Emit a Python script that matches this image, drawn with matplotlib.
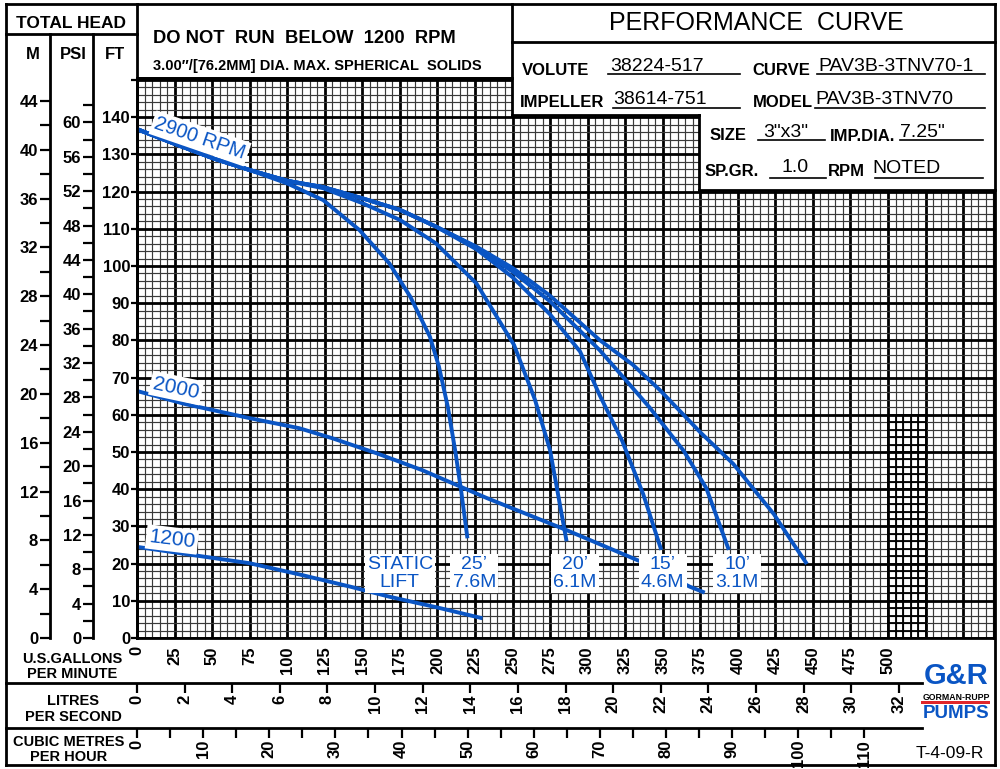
import numpy as np
import matplotlib
matplotlib.use("Agg")
import matplotlib.pyplot as plt
from matplotlib.lines import Line2D
from matplotlib.patches import Rectangle

# ---------------- data ----------------
gpm_labels = list(range(0, 501, 25))
lps_labels = list(range(0, 33, 2))
cmh_labels = list(range(0, 111, 10))
cmh_minor = list(range(5, 110, 10))
ft_labels = list(range(0, 141, 10))
m_labels = list(range(0, 45, 4))
m_minor = list(range(2, 43, 4))
psi_labels = list(range(0, 61, 4))
psi_minor = list(range(2, 63, 4))

lift25_gpm = [0, 24, 51, 75, 100, 124, 148, 168, 182, 195, 201, 207, 212, 216, 220]
lift25_ft = [136.8, 133, 128.9, 125.8, 122.2, 117.7, 109.7, 100.7, 91.7, 81, 73, 62, 50, 39, 26.8]
lift20_gpm = [0, 24, 51, 75, 100, 124, 150, 175, 199, 226, 251, 265, 275, 281, 286]
lift20_ft = [136.8, 133, 128.9, 125.8, 122.9, 120.9, 116.9, 112.4, 106.1, 95.3, 78.8, 64, 50.5, 37.1, 26]
lift15_gpm = [0, 24, 51, 75, 100, 124, 150, 175, 199, 226, 250, 275, 295, 308, 323, 337, 349]
lift15_ft = [136.8, 133, 128.9, 125.8, 122.9, 121.2, 118.2, 115.1, 110.6, 104.5, 97, 87, 77, 65.3, 53, 38.7, 23.7]
lift10_gpm = [0, 24, 51, 75, 100, 124, 150, 175, 199, 226, 250, 275, 308, 341, 364, 379, 394]
lift10_ft = [136.8, 133, 128.9, 125.8, 122.9, 121.2, 118.2, 115.1, 110.6, 105, 98.5, 90.5, 77.4, 62.1, 50.3, 40.3, 23.7]
full_gpm = [0, 24, 51, 75, 100, 124, 150, 175, 199, 226, 250, 275, 308, 330, 348, 375, 397, 410, 424, 437, 446]
full_ft = [136.8, 133, 128.9, 125.8, 122.9, 121.2, 118.2, 115.1, 110.6, 105.2, 99.5, 92, 80.1, 73.5, 66.7, 55.3, 46.8, 40.3, 33.3, 25.3, 19.9]
rpm2000_gpm = [0, 32, 75, 108, 130, 160, 190, 233, 286, 338, 368, 378]
rpm2000_ft = [66.4, 62.9, 59.1, 56.4, 53.7, 49.6, 45.1, 37.6, 29, 20.1, 13.8, 12.2]
rpm1200_gpm = [0, 32, 75, 108, 142, 168, 200, 230]
rpm1200_ft = [24.5, 22.6, 20.1, 17.1, 13.8, 11.1, 8.2, 5.3]

lift_labels = ["STATIC\nLIFT", "25\u2019\n7.6M", "20\u2019\n6.1M", "15\u2019\n4.6M", "10\u2019\n3.1M"]
lift_label_gpm = [175, 224.5, 291.5, 350, 399.5]

BLUE = "#0a55c4"
FONT = "Liberation Sans"
plt.rcParams["font.family"] = [FONT, "DejaVu Sans"]

W, H = 1000, 769
fig = plt.figure(figsize=(10, 7.69), dpi=100)
fig.patch.set_facecolor("white")


def fx(x):
    return x / W


def fy(y):
    return 1 - y / H


def seg(x0, y0, x1, y1, lw=2.0):
    fig.add_artist(Line2D([fx(x0), fx(x1)], [fy(y0), fy(y1)], color="black", lw=lw,
                          transform=fig.transFigure, solid_capstyle="projecting", zorder=3))


def ftext(x, y, s, size, weight="bold", ha="center", va="baseline", color="black", **kw):
    fig.text(fx(x), fy(y), s, fontsize=size, fontweight=weight, ha=ha, va=va,
             color=color, zorder=4, **kw)


# ---------------- main grid axes ----------------
PX_GPM = 1.502
PX_FT = 3.72
ax = fig.add_axes([fx(137), fy(638), (994 - 137) / W, (638 - 78) / H])
ax.set_xlim(0, (994 - 137) / PX_GPM)
ax.set_ylim(0, (638 - 78) / PX_FT)
ax.set_xticks(np.arange(0, 571, 25))
ax.set_xticks(np.arange(0, 571, 5), minor=True)
ax.set_yticks(np.arange(0, 151, 10))
ax.set_yticks(np.arange(0, 151, 2), minor=True)
ax.grid(which="minor", color="#3a3a3a", lw=0.85)
ax.grid(which="major", color="black", lw=2.0)
ax.set_axisbelow(True)
for sp in ax.spines.values():
    sp.set_linewidth(2.0)

xt_lab = [str(v) if v in gpm_labels else "" for v in np.arange(0, 571, 25)]
ax.set_xticklabels(xt_lab, rotation=90, fontsize=12, fontweight="bold")
yt_lab = [str(v) if v in ft_labels else "" for v in np.arange(0, 151, 10)]
ax.set_yticklabels(yt_lab, fontsize=12, fontweight="bold")
ax.tick_params(axis="x", which="both", length=0, pad=6)
ax.tick_params(axis="y", which="major", length=4, width=1.6, pad=1)
ax.tick_params(axis="y", which="minor", length=0)

# dark dense patch in grid (as in reference print)
for gx in range(500, 526, 5):
    ax.plot([gx, gx], [0, 60], color="black", lw=1.3, zorder=1)
for gy in range(0, 61, 2):
    ax.plot([500, 525], [gy, gy], color="black", lw=1.3, zorder=1)

# ---------------- curves ----------------
curve_kw = dict(color=BLUE, lw=2.8, solid_capstyle="butt", solid_joinstyle="round", zorder=3)
for xs, ys in [(lift25_gpm, lift25_ft), (lift20_gpm, lift20_ft), (lift15_gpm, lift15_ft),
               (lift10_gpm, lift10_ft), (full_gpm, full_ft),
               (rpm2000_gpm, rpm2000_ft), (rpm1200_gpm, rpm1200_ft)]:
    ax.plot(xs, ys, **curve_kw)

box = dict(facecolor="white", edgecolor="none", pad=2.0)
ax.text(42, 134.3, "2900 RPM", color=BLUE, fontsize=14.5, rotation=-19, ha="center",
        va="center", bbox=box, zorder=5, rotation_mode="anchor")
ax.text(26, 67.2, "2000", color=BLUE, fontsize=15, rotation=-12, ha="center",
        va="center", bbox=box, zorder=5, rotation_mode="anchor")
ax.text(23.3, 26.5, "1200", color=BLUE, fontsize=15, rotation=-7, ha="center",
        va="center", bbox=box, zorder=5, rotation_mode="anchor")
for s, g in zip(lift_labels, lift_label_gpm):
    ax.text(g, 17.4, s, color=BLUE, fontsize=14, ha="center", va="center",
            linespacing=1.08, bbox=dict(facecolor="white", edgecolor="none", pad=1.5), zorder=5)

# ---------------- secondary head scales ----------------
secM = ax.secondary_yaxis(-(137 - 50) / (994 - 137),
                          functions=(lambda f: f / 3.28084, lambda m: m * 3.28084))
secM.set_yticks(m_labels)
secM.set_yticklabels([str(v) for v in m_labels], fontsize=12, fontweight="bold")
secM.set_yticks(m_minor, minor=True)
secM.tick_params(which="both", length=7.5, width=1.6, direction="out", pad=1)
secM.spines["left"].set_visible(False)

secP = ax.secondary_yaxis(-(137 - 93) / (994 - 137),
                          functions=(lambda f: f / 2.31, lambda p: p * 2.31))
secP.set_yticks(psi_labels)
secP.set_yticklabels([str(v) for v in psi_labels], fontsize=12, fontweight="bold")
secP.set_yticks(psi_minor, minor=True)
secP.tick_params(which="both", length=7.5, width=1.6, direction="out", pad=1)
secP.spines["left"].set_visible(False)

# ---------------- secondary flow scales ----------------
secL = ax.secondary_xaxis(-(683 - 638) / (638 - 78),
                          functions=(lambda g: g / 15.8503, lambda l: l * 15.8503))
secL.set_xticks(lps_labels)
secL.set_xticklabels([str(v) for v in lps_labels], rotation=90, fontsize=12, fontweight="bold")
secL.tick_params(which="both", length=7.5, width=1.6, direction="out", pad=1)
secL.spines["bottom"].set_visible(False)

secC = ax.secondary_xaxis(-(728 - 638) / (638 - 78),
                          functions=(lambda g: g / 4.40287, lambda c: c * 4.40287))
secC.set_xticks(cmh_labels)
secC.set_xticklabels([str(v) for v in cmh_labels], rotation=90, fontsize=12, fontweight="bold")
secC.set_xticks(cmh_minor, minor=True)
secC.tick_params(which="both", length=7.5, width=1.6, direction="out", pad=1)
secC.spines["bottom"].set_visible(False)

# ---------------- white title-block areas over grid ----------------
fig.add_artist(Rectangle((fx(512), fy(115)), fx(995) - fx(512), fy(0) - fy(115),
                         transform=fig.transFigure, facecolor="white", edgecolor="none", zorder=1))
fig.add_artist(Rectangle((fx(699), fy(190)), fx(995) - fx(699), fy(0) - fy(190),
                         transform=fig.transFigure, facecolor="white", edgecolor="none", zorder=1))
fig.add_artist(Rectangle((fx(995), 0), 1 - fx(995), 1, transform=fig.transFigure,
                         facecolor="white", edgecolor="none", zorder=1))

# ---------------- frame lines ----------------
LW = 2.0
seg(6, 4, 995, 4, LW)
seg(6, 765, 995, 765, LW)
seg(6, 4, 6, 765, LW)
seg(995, 4, 995, 765, LW)
seg(6, 34, 137, 34, LW)
seg(137, 4, 137, 638, LW)
seg(50, 34, 50, 638, LW)
seg(93, 34, 93, 638, LW)
seg(137, 78, 512, 78, LW)
seg(512, 4, 512, 115, LW)
seg(512, 42, 995, 42, LW)
seg(512, 115, 699, 115, LW)
seg(699, 115, 699, 190, LW)
seg(699, 190, 995, 190, LW)
seg(6, 683, 922, 683, LW)
seg(6, 728, 922, 728, LW)

# ---------------- texts ----------------
ftext(71, 28, "TOTAL HEAD", 12.5)
ftext(33, 59, "M", 12)
ftext(73, 59, "PSI", 12)
ftext(115, 59, "FT", 12)
ftext(153, 43, "DO NOT  RUN  BELOW  1200  RPM", 13.2, ha="left")
ftext(153, 70, "3.00\u2033/[76.2MM] DIA. MAX. SPHERICAL  SOLIDS", 10.5, ha="left")
ftext(756, 30, "PERFORMANCE  CURVE", 18, weight="normal")

ftext(522, 75, "VOLUTE", 12, ha="left")
ftext(610, 71, "38224-517", 14, weight="normal", ha="left")
seg(608, 74, 740, 74, 1.2)
ftext(752, 75, "CURVE", 12, ha="left")
ftext(818, 71, "PAV3B-3TNV70-1", 14, weight="normal", ha="left")
seg(817, 74, 985, 74, 1.2)

ftext(520, 107, "IMPELLER", 12, ha="left")
ftext(613, 104, "38614-751", 14, weight="normal", ha="left")
seg(613, 108, 740, 108, 1.2)
ftext(753, 107, "MODEL", 12, ha="left")
ftext(815, 104, "PAV3B-3TNV70", 14, weight="normal", ha="left")
seg(815, 108, 985, 108, 1.2)

ftext(710, 140, "SIZE", 12, ha="left")
ftext(786, 137, "3\"x3\"", 14, weight="normal")
seg(758, 140, 825, 140, 1.2)
ftext(830, 141, "IMP.DIA.", 12, ha="left")
ftext(922, 137, "7.25\"", 14, weight="normal")
seg(900, 140, 983, 140, 1.2)

ftext(705, 176, "SP.GR.", 12, ha="left")
ftext(795, 172, "1.0", 14, weight="normal")
seg(770, 178, 826, 178, 1.2)
ftext(828, 176, "RPM", 12, ha="left")
ftext(907, 173, "NOTED", 14, weight="normal")
seg(875, 178, 983, 178, 1.2)

ftext(72, 663, "U.S.GALLONS", 10.5)
ftext(72, 678, "PER MINUTE", 10.5)
ftext(73, 705, "LITRES", 10.5)
ftext(73, 721, "PER SECOND", 10.5)
ftext(69, 746, "CUBIC METRES", 10.5)
ftext(69, 761, "PER HOUR", 10.5)

# logo
ftext(956, 684, "G&R", 21, color=BLUE)
ftext(956, 699.5, "GORMAN-RUPP", 6.3)
fig.add_artist(Rectangle((fx(921), fy(704)), fx(990) - fx(921), fy(700.8) - fy(704),
                         transform=fig.transFigure, facecolor="#e0262b", edgecolor="none", zorder=3))
ftext(956, 718, "PUMPS", 13.5, color=BLUE)
ftext(950, 758, "T-4-09-R", 12.5, weight="normal")

fig.savefig("out.png", dpi=100, facecolor="white")
